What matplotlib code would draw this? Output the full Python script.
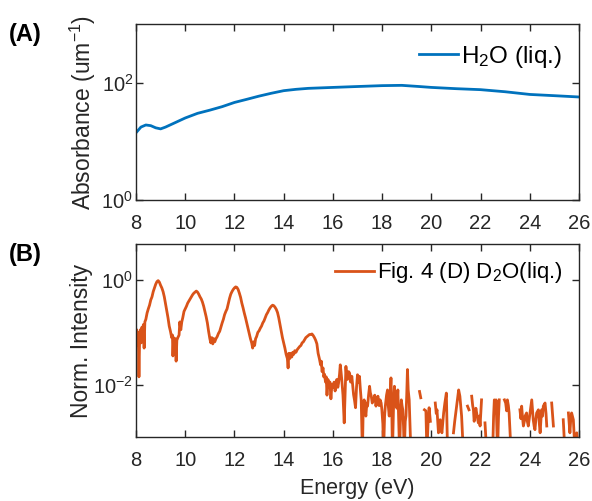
import numpy as np
import matplotlib
matplotlib.use("Agg")
import matplotlib.pyplot as plt

plt.rcParams['font.family'] = ['Liberation Sans', 'DejaVu Sans']
plt.rcParams['mathtext.fontset'] = 'custom'
plt.rcParams['mathtext.rm'] = 'Liberation Sans'
plt.rcParams['mathtext.it'] = 'Liberation Sans:italic'
plt.rcParams['mathtext.bf'] = 'Liberation Sans:bold'
plt.rcParams['mathtext.default'] = 'regular'

# ---- Panel A: H2O absorbance ----
h2o_energy = [8.0, 8.2, 8.4, 8.6, 8.8, 9.0, 9.2, 9.5, 10.0, 10.5, 11.0, 11.5, 12.0, 12.5,
              13.0, 13.5, 14.0, 14.5, 15.0, 16.0, 17.0, 18.0, 18.8, 19.5, 20.0, 21.0,
              22.0, 23.0, 24.0, 25.0, 26.0]
h2o_absorb = [14, 17.5, 19, 18.5, 17, 16.3, 17.5, 20, 25, 30, 34, 39, 46, 52,
              59, 66, 73, 77, 80, 83, 86, 89, 90, 86, 83, 79,
              76, 70, 63, 60, 57]

# ---- Panel B: D2O normalized intensity (log10 values; nan = gap) ----
nan = float('nan')
d2o_energy = [
    8.00, 8.03, 8.06, 8.09, 8.12, 8.15, 8.18, 8.21, 8.24, 8.27, 8.30, 8.33, 8.36, 8.40,
    8.45, 8.50, 8.55, 8.60, 8.65, 8.70, 8.75, 8.80, 8.85, 8.90, 8.95, 9.00, 9.05, 9.10,
    9.15, 9.20, 9.25, 9.30, 9.35, 9.40, 9.45, 9.48, 9.50, 9.53, 9.56, 9.60, 9.63, 9.66,
    9.70, 9.75, 9.78, 9.82, 9.86, 9.90, 9.95, 10.00, 10.05, 10.10, 10.15, 10.20, 10.25,
    10.30, 10.35, 10.40, 10.45, 10.50, 10.55, 10.60, 10.65, 10.70, 10.75, 10.80, 10.85,
    10.90, 10.95, 11.00, 11.04, 11.08, 11.12, 11.16, 11.20, 11.25, 11.30, 11.35, 11.40,
    11.45, 11.50, 11.55, 11.60, 11.65, 11.70, 11.75, 11.80, 11.85, 11.90, 11.95, 12.00,
    12.05, 12.10, 12.15, 12.20, 12.25, 12.30, 12.35, 12.40, 12.45, 12.50, 12.55, 12.60,
    12.65, 12.70, 12.74, 12.78, 12.82, 12.86, 12.90, 12.95, 13.00, 13.05, 13.10, 13.15,
    13.20, 13.25, 13.30, 13.35, 13.40, 13.45, 13.50, 13.55, 13.60, 13.65, 13.70, 13.75,
    13.80, 13.85, 13.90, 13.95, 14.00, 14.05, 14.10, 14.15, 14.18, 14.21, 14.25, 14.29,
    14.33, 14.37, 14.41, 14.45, 14.50, 14.55, 14.60, 14.65, 14.70, 14.75, 14.80, 14.85,
    14.90, 14.95, 15.00, 15.05, 15.10, 15.15, 15.20, 15.25, 15.30, 15.35, 15.40, 15.45,
    15.50, 15.53, 15.56, 15.60, 15.63, 15.66, 15.70, 15.73, 15.76, 15.80, 15.84, 15.88,
    15.92, 15.96, 16.00,
    16.05, 16.09, 16.13, 16.16, 16.20, 16.23, 16.27, 16.30, 16.33, 16.36, 16.41, 16.46,
    16.50, 16.53, 16.56, 16.59, 16.64, 16.68, 16.72, 16.77, 16.80, 16.84, 16.88, 16.92,
    16.96, 17.00, 17.04, 17.08, 17.11, 17.15, 17.20, 17.23, 17.27, 17.30, 17.34, 17.38,
    17.41, 17.45, 17.49, 17.52, 17.56, 17.60, 17.65, 17.70, 17.75, 17.79, 17.83, 17.88,
    17.92, 17.96, 17.99, 18.03, 18.06, 18.10, 18.13, 18.18, 18.22, 18.25, 18.29, 18.32,
    18.36, 18.39, 18.42, 18.46, 18.50, 18.53, 18.57, 18.60, 18.64, 18.67, 18.71, 18.75,
    18.78, 18.81, 18.84, 18.87, 18.90, 18.94, 18.97, 19.00, 19.03, 19.06, 19.10, 19.13,
    19.17, 19.28, 19.52, 19.57, 19.62, 19.72,
    19.78, 19.82, 19.87, 19.91, 19.96, 20.02, 20.16, 20.20, 20.23, 20.29, 20.33, 20.36,
    20.40, 20.43, 20.47, 20.50, 20.55, 20.61, 20.66, 20.77, 20.90, 20.95, 21.01, 21.06,
    21.11, 21.16, 21.20, 21.23, 21.30, 21.37, 21.47, 21.53, 21.58,
    21.64, 21.68, 21.71, 21.74, 21.77, 21.81, 21.84, 21.88, 21.91, 21.95, 21.98, 22.04,
    22.11, 22.18, 22.25, 22.32, 22.49, 22.53, 22.56, 22.60, 22.63, 22.69, 22.73, 22.76,
    22.86, 22.97, 23.02, 23.06, 23.09, 23.13, 23.16, 23.24, 23.33, 23.60, 23.64,
    23.67, 23.70, 23.74, 23.78, 23.81, 23.87, 23.90, 23.94, 23.98, 24.01, 24.05, 24.08,
    24.14, 24.18, 24.21, 24.25, 24.28, 24.35, 24.38, 24.42, 24.45, 24.48, 24.52, 24.55,
    24.62, 24.66, 24.69, 24.75, 24.89, 24.96, 25.00, 25.36, 25.43, 25.50, 25.57,
    25.63, 25.66, 25.70, 25.77, 25.84, 25.91, 25.97]
d2o_log_intensity = [
    -1.10, -0.95, -1.25, -1.00, -1.85, -1.05, -0.95, -1.20, -0.90, -1.00, -0.85, -1.30, -0.80, -0.75,
    -0.63, -0.55, -0.48, -0.38, -0.32, -0.22, -0.15, -0.08, -0.03, -0.01, -0.04, -0.10, -0.15, -0.22,
    -0.32, -0.45, -0.57, -0.72, -0.88, -0.98, -1.10, -1.05, -1.45, -1.10, -1.20, -1.12, -1.55, -1.15,
    -1.10, -1.05, -0.80, -0.95, -0.80, -0.72, -0.60, -0.55, -0.50, -0.44, -0.40, -0.36, -0.32,
    -0.28, -0.25, -0.23, -0.21, -0.23, -0.27, -0.32, -0.36, -0.42, -0.50, -0.60, -0.70,
    -0.82, -0.98, -1.12, -1.20, -1.10, -1.22, -1.12, -1.18, -1.12, -1.08, -1.02, -0.98,
    -0.90, -0.82, -0.75, -0.66, -0.60, -0.55, -0.45, -0.35, -0.27, -0.22, -0.18, -0.15,
    -0.13, -0.14, -0.18, -0.25, -0.33, -0.44, -0.53, -0.63, -0.72, -0.82, -0.92, -1.02,
    -1.12, -1.20, -1.30, -1.18, -1.25, -1.12, -1.08, -1.00, -0.97, -0.92, -0.88, -0.82,
    -0.78, -0.72, -0.66, -0.62, -0.57, -0.53, -0.50, -0.48, -0.49, -0.52, -0.56, -0.62,
    -0.72, -0.85, -0.98, -1.10, -1.20, -1.30, -1.42, -1.50, -1.68, -1.40, -1.50, -1.40,
    -1.47, -1.38, -1.42, -1.35, -1.38, -1.33, -1.30, -1.27, -1.25, -1.20, -1.18, -1.14,
    -1.10, -1.08, -1.06, -1.04, -1.04, -1.03, -1.06, -1.10, -1.15, -1.22, -1.40, -1.50,
    -1.62, -1.55, -1.75, -1.68, -1.85, -1.80, -1.95, -1.85, -2.20, -1.90, -2.05, -1.95,
    -2.27, -2.00, -2.05,
    -1.95, -2.12, -1.98, -1.90, -2.05, -1.97, -1.80, -1.62, -1.75, -1.90, -2.20, -2.73,
    -2.10, -1.65, -1.85, -1.90, -1.75, -1.78, -1.95, -1.84, -2.00, -2.19, -2.30, -2.44,
    -2.05, -1.81, -1.95, -1.84, -2.05, -2.29, -3.30, -2.50, -2.29, -2.45, -2.60, -2.35,
    -2.41, -2.20, -2.03, -2.15, -2.22, -2.35, -2.29, -2.20, -2.41, -2.30, -2.22, -2.40,
    -2.29, -2.35, -2.48, -2.75, -3.30, -2.60, -2.41, -2.20, -2.10, -2.40, -2.60, -2.25,
    -1.87, -2.40, -3.30, -2.50, -2.03, -2.20, -2.29, -2.45, -2.10, -2.60, -3.30, -2.55,
    -2.29, -2.40, -2.48, -2.80, -3.30, -2.70, -2.60, -2.20, -1.71, -2.10, -2.29, -2.70,
    -3.30, nan, -2.13, -2.25, nan, -2.48,
    -2.50, -3.30, -2.70, -2.44, -2.70, nan, -2.35, -2.55, -2.48, -2.92, -2.75, -2.67,
    -2.85, -2.92, -2.70, -2.54, -2.35, -2.16, -3.30, nan, -2.92, -2.70, -2.48, -2.30,
    -2.10, -2.22, -2.45, -2.60, -3.30, nan, -2.41, -2.48, nan,
    -2.22, -2.40, -2.48, -2.70, -2.60, -2.45, -2.54, -2.65, -2.73, -2.60, -2.79, -2.29,
    nan, -2.73, -3.30, nan, -3.30, -2.60, -2.29, -2.50, -2.29, -3.30, -2.60, -2.29,
    nan, -2.29, -2.35, -2.50, -2.29, -2.40, -2.54, -3.30, nan, -2.48, -2.65,
    -2.41, -2.60, -2.79, -2.70, -2.60, -2.54, -2.70, -2.79, -2.65, -2.54, -2.40, -2.29,
    -2.67, -2.80, -2.86, -2.65, -2.54, -2.48, -2.70, -2.92, -2.70, -2.48, -2.60, -2.41,
    -2.35, -2.55, -2.79, nan, -2.35, -2.79, nan, -2.67, -3.30, nan, -2.54,
    -2.92, -2.70, -2.54, -2.67, -3.30, -2.92, -3.30]

x_ticks = [8, 10, 12, 14, 16, 18, 20, 22, 24, 26]

blue = '#0072BD'
orange = '#D95319'
dark = '#262626'
fs_tick = 14.5
fs_ylab = 16.5
fs_xlab = 15.5

fig = plt.figure(figsize=(5.92, 5.01), dpi=100)
W, H = 592, 501
def rect(l, t, r, b):
    return [l / W, 1 - b / H, (r - l) / W, (b - t) / H]

axA = fig.add_axes(rect(136, 24, 579, 200))
axB = fig.add_axes(rect(136, 244, 579, 437))
axB.set_zorder(2)
axB.set_facecolor('white')

def style(ax):
    ax.set_xlim(8, 26)
    ax.set_xticks(x_ticks)
    ax.tick_params(axis='both', which='major', direction='in', length=5, width=1,
                   colors=dark, labelsize=fs_tick, top=True, right=True)
    ax.tick_params(axis='x', pad=10)
    ax.tick_params(axis='y', pad=2)
    ax.tick_params(which='minor', left=False, right=False, top=False, bottom=False)
    for s in ax.spines.values():
        s.set_color(dark)
        s.set_linewidth(1.0)

axA.plot(h2o_energy, h2o_absorb, color=blue, lw=2, label='H$_2$O (liq.)')
axA.set_yscale('log')
axA.set_ylim(1, 1000)
axA.set_yticks([1, 100])
style(axA)
axA.set_ylabel('Absorbance (um$^{-1}$)', fontsize=fs_ylab, color=dark)
axA.yaxis.set_label_coords(-0.086, 0.5)
axA.legend(loc='center right', bbox_to_anchor=(0.962, 0.8125), frameon=False,
           fontsize=17.5, handlelength=1.6, handletextpad=0.15, borderaxespad=0, borderpad=0)

d2o_int = [10 ** v for v in d2o_log_intensity]
axB.plot(d2o_energy, d2o_int, color=orange, lw=2, label='Fig. 4 (D) D$_2$O(liq.)')
axB.set_yscale('log')
axB.set_ylim(1e-3, 10 ** 0.69)
axB.set_yticks([1e-2, 1])
style(axB)
axB.set_ylabel('Norm. Intensity', fontsize=fs_ylab, color=dark)
axB.yaxis.set_label_coords(-0.097, 0.5)
axB.set_xlabel('Energy (eV)', fontsize=fs_xlab, color=dark, labelpad=6)
axB.legend(loc='center right', bbox_to_anchor=(0.964, 0.85), frameon=False,
           fontsize=16, handlelength=1.75, handletextpad=0.15, borderaxespad=0, borderpad=0)

fig.text(9 / W, 1 - 34 / H, '(A)', fontsize=17, fontweight='bold', va='center', ha='left')
fig.text(9 / W, 1 - 254 / H, '(B)', fontsize=17, fontweight='bold', va='center', ha='left')

fig.savefig('out.png', dpi=100)
